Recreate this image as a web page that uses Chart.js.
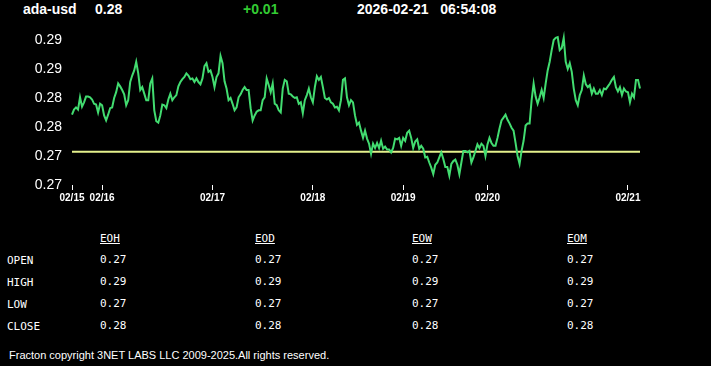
<!DOCTYPE html>
<html>
<head>
<meta charset="utf-8">
<script src="https://cdn.jsdelivr.net/npm/chart.js@4.4.1/dist/chart.umd.min.js"></script>
<style>
  html,body{margin:0;padding:0;background:#000;}
  body{width:711px;height:366px;overflow:hidden;position:relative;color:#fff;font-family:"Liberation Sans",Arial,sans-serif;}
  .h{position:absolute;top:1px;font-weight:bold;font-size:14px;line-height:16px;white-space:pre;}
  #wrap{position:absolute;left:0;top:21px;width:711px;height:192px;}
  .t{position:absolute;font-family:"DejaVu Sans Mono",monospace;font-size:11px;line-height:13px;white-space:pre;}
  .u{text-decoration:underline;}
  #foot{position:absolute;left:9px;top:349px;font-size:11px;line-height:13px;}
</style>
</head>
<body>
<div class="h" style="left:23px">ada-usd</div>
<div class="h" style="left:95px">0.28</div>
<div class="h" style="left:243px;color:#33cc33">+0.01</div>
<div class="h" style="left:357px">2026-02-21   06:54:08</div>
<div id="wrap"><canvas id="c" width="711" height="192"></canvas></div>
<div id="tbl"></div>
<div id="foot">Fracton copyright 3NET LABS LLC 2009-2025.All rights reserved.</div>
<script>
// ---- data ----
const days = ['02/15','02/16','02/17','02/18','02/19','02/20','02/21'];
const pointsPerDay = [15,55,50,45,42,70,7];
const d0215 = [0.2797,0.2804,0.2807,0.2804,0.2821,0.2808,0.2814,0.2822,0.2822,0.2821,0.2818,0.2812,0.2811,0.2800,0.2812];
const d0216 = [0.2810,0.2796,0.2789,0.2797,0.2806,0.2807,0.2820,0.2828,0.2840,0.2836,0.2831,0.2825,0.2810,0.2817,0.2842,0.2851,0.2858,0.2870,0.2854,0.2831,0.2835,0.2826,0.2817,0.2817,0.2840,0.2847,0.2803,0.2788,0.2786,0.2796,0.2811,0.2810,0.2806,0.2818,0.2826,0.2817,0.2821,0.2824,0.2836,0.2842,0.2846,0.2849,0.2854,0.2851,0.2846,0.2847,0.2842,0.2847,0.2842,0.2839,0.2847,0.2864,0.2868,0.2856,0.2858];
const d0217 = [0.2849,0.2835,0.2849,0.2854,0.2878,0.2868,0.2843,0.2833,0.2817,0.2820,0.2812,0.2803,0.2807,0.2821,0.2825,0.2831,0.2835,0.2831,0.2831,0.2806,0.2789,0.2796,0.2801,0.2803,0.2803,0.2817,0.2821,0.2847,0.2838,0.2828,0.2840,0.2812,0.2810,0.2803,0.2800,0.2833,0.2845,0.2843,0.2826,0.2825,0.2822,0.2820,0.2821,0.2812,0.2814,0.2799,0.2817,0.2824,0.2833,0.2821];
const d0218 = [0.2814,0.2835,0.2850,0.2845,0.2849,0.2835,0.2820,0.2818,0.2820,0.2814,0.2812,0.2807,0.2808,0.2803,0.2817,0.2845,0.2847,0.2821,0.2810,0.2817,0.2814,0.2796,0.2783,0.2786,0.2775,0.2765,0.2775,0.2764,0.2757,0.2743,0.2757,0.2751,0.2758,0.2751,0.2761,0.2750,0.2753,0.2749,0.2749,0.2745,0.2751,0.2764,0.2763,0.2765,0.2754];
const d0219 = [0.2765,0.2761,0.2772,0.2775,0.2765,0.2751,0.2760,0.2763,0.2750,0.2754,0.2750,0.2738,0.2739,0.2731,0.2724,0.2715,0.2728,0.2731,0.2738,0.2745,0.2736,0.2725,0.2725,0.2713,0.2729,0.2733,0.2735,0.2728,0.2715,0.2731,0.2747,0.2747,0.2745,0.2747,0.2731,0.2738,0.2747,0.2756,0.2751,0.2757,0.2754,0.2740];
const d0220 = [0.2756,0.2765,0.2758,0.2754,0.2754,0.2765,0.2778,0.2789,0.2793,0.2797,0.2790,0.2785,0.2779,0.2775,0.2758,0.2740,0.2729,0.2747,0.2761,0.2782,0.2785,0.2785,0.2817,0.2840,0.2822,0.2812,0.2821,0.2831,0.2820,0.2840,0.2858,0.2870,0.2886,0.2900,0.2903,0.2904,0.2886,0.2889,0.2903,0.2870,0.2860,0.2868,0.2856,0.2833,0.2817,0.2810,0.2824,0.2831,0.2851,0.2839,0.2835,0.2838,0.2826,0.2833,0.2826,0.2826,0.2831,0.2824,0.2833,0.2832,0.2836,0.2840,0.2845,0.2849,0.2835,0.2829,0.2835,0.2824,0.2833,0.2829];
const d0221 = [0.2828,0.2814,0.2826,0.2821,0.2845,0.2845,0.2833];
const refLevel = 0.2746;
const yMin = 0.27, yMax = 0.29, yStep = 0.004;

const tableCols = ['EOH','EOD','EOW','EOM'];
const tableRows = ['OPEN','HIGH','LOW','CLOSE'];
const tableVals = {
  OPEN:  ['0.27','0.27','0.27','0.27'],
  HIGH:  ['0.29','0.29','0.29','0.29'],
  LOW:   ['0.27','0.27','0.27','0.27'],
  CLOSE: ['0.28','0.28','0.28','0.28']
};

// ---- build ----
const price = [].concat(d0215,d0216,d0217,d0218,d0219,d0220,d0221);
const labels = [];
const dayStart = new Set();
days.forEach((d,k)=>{ dayStart.add(labels.length); for(let i=0;i<pointsPerDay[k];i++) labels.push(d); });
const ref = price.map(()=>refLevel);

new Chart(document.getElementById('c'), {
  type: 'line',
  data: {
    labels: labels,
    datasets: [
      {data: price, borderColor:'#42dc70', borderWidth:2, pointRadius:0, tension:0, clip:false},
      {data: ref, borderColor:'#e4f08c', borderWidth:2, pointRadius:0, tension:0}
    ]
  },
  options: {
    responsive:false, animation:false, devicePixelRatio:1,
    layout:{padding:{left:0,right:71,top:19,bottom:0}},
    plugins:{legend:{display:false}, tooltip:{enabled:false}},
    scales:{
      x:{
        type:'category',
        grid:{display:true, drawOnChartArea:false, drawTicks:true, tickLength:5, color:'#ffffff', lineWidth:1},
        border:{display:false},
        ticks:{autoSkip:false, maxRotation:0, minRotation:0, padding:2, color:'#ffffff',
               font:{family:'"Liberation Sans", Arial, sans-serif', size:10, weight:'bold'},
               callback:function(v,i){ return dayStart.has(i) ? labels[i] : null; }},
        afterFit:function(s){ s.height = 28; }
      },
      y:{
        min:yMin, max:yMax,
        grid:{display:false, drawTicks:false},
        border:{display:false},
        ticks:{stepSize:yStep, padding:10, color:'#ffffff',
               font:{family:'"Liberation Sans", Arial, sans-serif', size:14},
               callback:function(v){ return Number(v).toFixed(2); }},
        afterFit:function(s){ s.width = 72; }
      }
    }
  }
});

// table
const tbl = document.getElementById('tbl');
const colX = [100,255,412,567];
const rowY = [254,276,298,320];
tableCols.forEach((c,j)=>{
  const e=document.createElement('div'); e.className='t u'; e.textContent=c;
  e.style.left=colX[j]+'px'; e.style.top='232px'; tbl.appendChild(e);
});
tableRows.forEach((r,i)=>{
  const e=document.createElement('div'); e.className='t'; e.textContent=r;
  e.style.left='7px'; e.style.top=rowY[i]+'px'; tbl.appendChild(e);
  tableVals[r].forEach((v,j)=>{
    const f=document.createElement('div'); f.className='t'; f.textContent=v;
    f.style.left=colX[j]+'px'; f.style.top=(rowY[i]-1)+'px'; tbl.appendChild(f);
  });
});
</script>
</body>
</html>
